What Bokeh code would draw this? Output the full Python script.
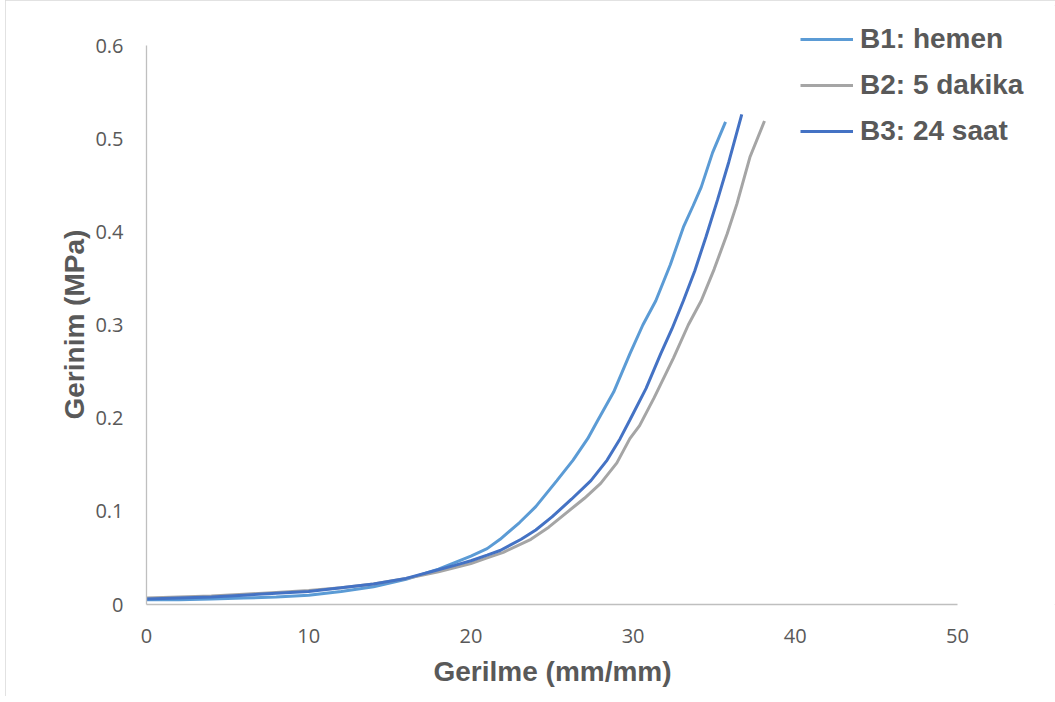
from bokeh.plotting import figure
from bokeh.models import Range1d, FixedTicker, Legend, LegendItem, Title
from bokeh.embed import file_html
from bokeh.resources import INLINE

# ---- data ----
b1_x = [0, 2, 4, 6, 8, 10, 12, 14, 16, 18, 19, 20, 21, 21.8, 23, 24, 25.3, 26.3, 27.2, 27.8,
        28.8, 29.8, 30.6, 31.4, 32.3, 33.1, 33.7, 34.2, 34.9, 35.7]
b1_y = [0.005, 0.005, 0.006, 0.007, 0.008, 0.010, 0.014, 0.019, 0.027, 0.038, 0.045, 0.052,
        0.060, 0.070, 0.088, 0.105, 0.133, 0.155, 0.178, 0.197, 0.228, 0.269, 0.300, 0.326,
        0.365, 0.405, 0.428, 0.448, 0.485, 0.518]

b2_x = [0, 2, 4, 6, 8, 10, 12, 14, 16, 18, 20, 21, 22, 23.7, 24.8, 26, 27, 28, 29, 29.8,
        30.4, 31.3, 32.5, 33.4, 34.2, 35, 35.8, 36.4, 37.2, 38.1]
b2_y = [0.007, 0.008, 0.009, 0.011, 0.013, 0.015, 0.018, 0.022, 0.028, 0.035, 0.044, 0.050,
        0.056, 0.070, 0.083, 0.100, 0.114, 0.130, 0.152, 0.178, 0.192, 0.222, 0.265, 0.300,
        0.326, 0.360, 0.398, 0.430, 0.480, 0.519]

b3_x = [0, 2, 4, 6, 8, 10, 12, 14, 16, 17.7, 19, 20, 21, 21.8, 23.1, 24, 25, 26.2, 27.4, 28.4,
        29.2, 29.8, 30.8, 31.7, 32.4, 33.1, 33.8, 34.5, 35.2, 35.9, 36.7]
b3_y = [0.006, 0.007, 0.008, 0.010, 0.012, 0.014, 0.018, 0.022, 0.028, 0.036, 0.042, 0.047,
        0.053, 0.058, 0.070, 0.080, 0.094, 0.113, 0.133, 0.155, 0.178, 0.198, 0.232, 0.269,
        0.296, 0.326, 0.358, 0.395, 0.434, 0.475, 0.526]

series_names = ["B1: hemen", "B2: 5 dakika", "B3: 24 saat"]
x_ticks = [0, 10, 20, 30, 40, 50]
y_ticks = [0, 0.1, 0.2, 0.3, 0.4, 0.5, 0.6]
y_tick_labels = ["0", "0.1", "0.2", "0.3", "0.4", "0.5", "0.6"]

x_title = "Gerilme (mm/mm)"
y_title = "Gerinim (MPa)"

TXT = "#595959"

# layout constants (pixels, canvas placed at x=5 on the page)
W, H = 1050, 696
LEFT, TOP, RIGHT, BOTTOM = 141, 5, 0, 92          # frame borders
AX_X_END_PX, AX_Y_TOP_PX = 952, 45                # where x=50 and y=0.6 sit
frame_w = W - LEFT - RIGHT
frame_h = H - TOP - BOTTOM
x_end = 50 * frame_w / (AX_X_END_PX - LEFT)
y_end = 0.6 * frame_h / ((H - BOTTOM) - AX_Y_TOP_PX)

p = figure(width=W, height=H, output_backend="svg", toolbar_location=None,
           x_range=Range1d(0, x_end), y_range=Range1d(0, y_end),
           min_border_left=LEFT, min_border_top=TOP, min_border_right=RIGHT,
           min_border_bottom=BOTTOM)
p.styles = {"margin-left": "5px", "outline": "1px solid #D9D9D9", "outline-offset": "-1px"}
p.outline_line_color = None
p.grid.visible = False
p.background_fill_color = "white"
p.border_fill_color = "white"

r1 = p.line(b1_x, b1_y, line_color="#5B9BD5", line_width=3)
r2 = p.line(b2_x, b2_y, line_color="#A5A5A5", line_width=3)
r3 = p.line(b3_x, b3_y, line_color="#4472C4", line_width=3)

for ax in (p.xaxis[0], p.yaxis[0]):
    ax.axis_line_color = "#BFBFBF"
    ax.axis_line_width = 1.3
    ax.major_tick_line_color = None
    ax.minor_tick_line_color = None
    ax.major_tick_out = 0
    ax.major_tick_in = 0
    ax.minor_tick_out = 0
    ax.minor_tick_in = 0
    ax.major_label_text_font = "Open Sans"
    ax.major_label_text_font_size = "20px"
    ax.major_label_text_color = TXT

p.xaxis.bounds = (0, 50)
p.yaxis.bounds = (0, 0.6)
p.xaxis.ticker = FixedTicker(ticks=x_ticks)
p.yaxis.ticker = FixedTicker(ticks=y_ticks)
p.yaxis.major_label_overrides = {t: l for t, l in zip(y_ticks, y_tick_labels)}
p.xaxis.major_label_standoff = 24
p.yaxis.major_label_standoff = 23

xt = Title(text=x_title, align="left", offset=287, text_font="Liberation Sans",
           text_font_style="bold", text_font_size="28px", text_color=TXT, standoff=17)
yt = Title(text=y_title, align="left", offset=185, text_font="Liberation Sans",
           text_font_style="bold", text_font_size="28px", text_color=TXT, standoff=6)
p.add_layout(xt, "below")
p.add_layout(yt, "left")

legend = Legend(items=[LegendItem(label=n, renderers=[r]) for n, r in zip(series_names, [r1, r2, r3])],
                location=(654, 457))
legend.label_text_font = "Liberation Sans"
legend.label_text_font_style = "bold"
legend.label_text_font_size = "28px"
legend.label_text_color = TXT
legend.glyph_width = 53
legend.glyph_height = 32
legend.label_height = 32
legend.label_standoff = 7
legend.spacing = 14
legend.padding = 0
legend.margin = 0
legend.border_line_color = None
legend.background_fill_alpha = 0
p.add_layout(legend)

open("out.html", "w").write(file_html(p, INLINE))
